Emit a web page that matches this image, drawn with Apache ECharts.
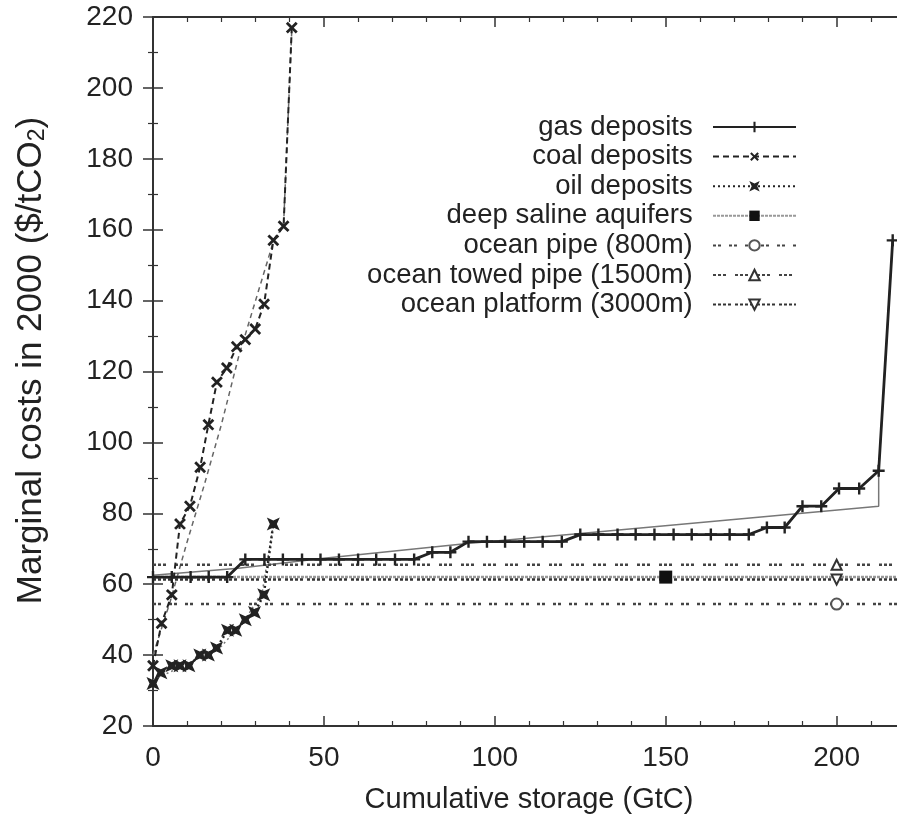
<!DOCTYPE html>
<html>
<head>
<meta charset="utf-8">
<script src="https://cdn.jsdelivr.net/npm/echarts@6/dist/echarts.min.js"></script>
<style>
html,body{margin:0;padding:0;background:#fff;}
#chart{width:897px;height:817px;}
</style>
</head>
<body>
<div id="chart"></div>
<script>
// ---- data ----
const gasX = [0, 5.5, 11, 16.3, 21.7, 27, 32.6, 38, 43.6, 49, 54.4, 60, 65.3, 70.8, 76.4, 81.7, 87, 92.3, 97.7, 103, 108.6, 114, 119.6, 125, 130.3, 135.9, 141.2, 146.7, 152.3, 157.6, 163.2, 168.7, 174.3, 179.6, 184.8, 190, 195.5, 200.7, 206.6, 212.3, 216.4];
const gasY = [62, 62, 62, 62, 62, 67, 67, 67, 67, 67, 67, 67, 67, 67, 67, 69, 69, 72, 72, 72, 72, 72, 72, 74, 74, 74, 74, 74, 74, 74, 74, 74, 74, 76, 76, 82, 82, 87, 87, 92, 157];
const gasFitX = [0, 25, 50, 92, 125, 212.3, 212.3, 216.4];
const gasFitY = [62.5, 64.5, 67.3, 71.5, 74.3, 82, 92, 157];

const coalX = [0, 2.5, 5.5, 7.9, 10.8, 13.8, 16.2, 18.7, 21.6, 24.5, 27, 29.9, 32.5, 35.2, 38.2, 40.6];
const coalY = [37, 49, 57, 77, 82, 93, 105, 117, 121, 127, 129, 132, 139, 157, 161, 217];
const coalFitX = [0, 5, 10, 15, 20, 25, 30, 35.2, 38.2, 40.6];
const coalFitY = [40, 55, 72, 88, 105, 124, 140, 156.6, 161.3, 216.3];

const oilX = [0, 2.3, 5.5, 7.9, 10.5, 13.7, 16.2, 18.6, 21.8, 24.2, 27, 29.7, 32.4, 35.2];
const oilY = [32, 35, 37, 37, 37, 40, 40, 42, 47, 47, 50, 52, 57, 77];
const oilFitX = [0, 10, 20, 27, 32, 35.2];
const oilFitY = [33, 37.5, 42.5, 50, 58, 76.7];

// horizontal cost levels: [marker x, cost]
const aquiferLevel = [150, 62];
const pipeLevel = [200, 54.4];
const towedLevel = [200, 65.5];
const platformLevel = [200, 61.3];

const xTicks = [0, 50, 100, 150, 200];
const yTicks = [20, 40, 60, 80, 100, 120, 140, 160, 180, 200, 220];

const names = ['gas deposits', 'coal deposits', 'oil deposits', 'deep saline aquifers',
  'ocean pipe (800m)', 'ocean towed pipe (1500m)', 'ocean platform (3000m)'];

// ---- chart ----
const FONT = '"Liberation Sans", Arial, Helvetica, sans-serif';
const X_MIN = 0, X_MAX = 220, Y_MIN = 20, Y_MAX = 220;
const zip = (a, b) => a.map((v, i) => [v, b[i]]);
const level = (lv) => [
  { value: [X_MIN, lv[1]], symbol: 'none' },
  { value: [lv[0], lv[1]] },
  { value: [X_MAX, lv[1]], symbol: 'none' }
];

const PLUS = 'path://M4,0H6V4H10V6H6V10H4V6H0V4H4Z';
const STAR = 'path://M0,0L5,2.3L10,0L7.7,5L10,10L5,7.7L0,10L2.3,5Z';
const DARK = '#222';

const axisCommon = {
  type: 'value',
  axisLine: { show: true, lineStyle: { color: '#333', width: 2 } },
  axisTick: { show: true, inside: true, length: 10, lineStyle: { color: '#333', width: 1.5 } },
  minorTick: { show: true, length: 5, lineStyle: { color: '#333', width: 1.2 } },
  splitLine: { show: false },
  minorSplitLine: { show: false }
};

const option = {
  backgroundColor: '#fff',
  animation: false,
  grid: { left: 153, top: 17, width: 752, height: 709, containLabel: false, outerBoundsMode: 'none' },
  xAxis: [
    Object.assign({}, axisCommon, {
      min: X_MIN, max: X_MAX, interval: 50, position: 'bottom',
      minorTick: Object.assign({}, axisCommon.minorTick, { splitNumber: 5 }),
      axisLabel: { show: true, fontSize: 28, color: DARK, fontFamily: FONT, margin: 18,
        formatter: v => (xTicks.indexOf(v) >= 0 ? String(v) : '') },
      name: 'Cumulative storage (GtC)', nameLocation: 'middle', nameGap: 59,
      nameTextStyle: { fontSize: 29, color: DARK, fontFamily: FONT }
    }),
    Object.assign({}, axisCommon, {
      min: X_MIN, max: X_MAX, interval: 50, position: 'top',
      minorTick: Object.assign({}, axisCommon.minorTick, { splitNumber: 5 }),
      axisLabel: { show: false }
    })
  ],
  yAxis: [
    Object.assign({}, axisCommon, {
      min: Y_MIN, max: Y_MAX, interval: 20, position: 'left',
      minorTick: Object.assign({}, axisCommon.minorTick, { splitNumber: 2 }),
      axisLabel: { show: true, fontSize: 28, color: DARK, fontFamily: FONT, margin: 20,
        formatter: v => (yTicks.indexOf(v) >= 0 ? String(v) : '') },
      name: '{t|Marginal costs in 2000 ($/tCO}{s|2}{t|)}', nameLocation: 'middle', nameGap: 104,
      nameTextStyle: {
        color: DARK, fontFamily: FONT, padding: [0, 0, 0, 22],
        rich: {
          t: { fontSize: 35, color: DARK, fontFamily: FONT, lineHeight: 42, verticalAlign: 'bottom' },
          s: { fontSize: 23, color: DARK, fontFamily: FONT, lineHeight: 23, verticalAlign: 'bottom' }
        }
      }
    }),
    Object.assign({}, axisCommon, {
      min: Y_MIN, max: Y_MAX, interval: 20, position: 'right',
      minorTick: Object.assign({}, axisCommon.minorTick, { splitNumber: 2 }),
      axisLabel: { show: false }
    })
  ],
  legend: {
    orient: 'vertical', right: 95, top: 108, align: 'right',
    itemWidth: 83, itemHeight: 13, itemGap: 1.6,
    data: names,
    formatter: n => n + '  ',
    textStyle: { fontSize: 27.5, color: DARK, fontFamily: FONT }
  },
  series: [
    // model fits (thin, not in legend)
    { name: 'gas fit', type: 'line', data: zip(gasFitX, gasFitY), symbol: 'none', z: 1,
      lineStyle: { color: '#777', width: 1.5 } },
    { name: 'coal fit', type: 'line', data: zip(coalFitX, coalFitY), symbol: 'none', z: 1,
      lineStyle: { color: '#666', width: 1.5, type: [5, 4] } },
    { name: 'oil fit', type: 'line', data: zip(oilFitX, oilFitY), symbol: 'none', z: 1,
      lineStyle: { color: '#777', width: 1.5, type: [2, 3] } },
    // main series
    { name: names[0], type: 'line', data: zip(gasX, gasY), z: 5,
      symbol: PLUS, symbolSize: 12, showAllSymbol: true,
      lineStyle: { color: DARK, width: 2.8 }, itemStyle: { color: DARK } },
    { name: names[1], type: 'line', data: zip(coalX, coalY), z: 5,
      symbol: PLUS, symbolSize: 14, symbolRotate: 45, showAllSymbol: true,
      lineStyle: { color: DARK, width: 2, type: [6, 4] }, itemStyle: { color: DARK } },
    { name: names[2], type: 'line', data: zip(oilX, oilY), z: 5,
      symbol: STAR, symbolSize: 13, showAllSymbol: true,
      lineStyle: { color: DARK, width: 2.5, type: [2, 3] }, itemStyle: { color: DARK } },
    { name: names[3], type: 'line', data: level(aquiferLevel), z: 3,
      symbol: 'rect', symbolSize: 13,
      lineStyle: { color: '#999', width: 2.5, type: [3, 1] }, itemStyle: { color: '#111' } },
    { name: names[4], type: 'line', data: level(pipeLevel), z: 3,
      symbol: 'circle', symbolSize: 11,
      lineStyle: { color: '#444', width: 2.5, type: [3, 2, 3, 8] },
      itemStyle: { color: '#fff', borderColor: '#555', borderWidth: 2 } },
    { name: names[5], type: 'line', data: level(towedLevel), z: 3,
      symbol: 'triangle', symbolSize: 10,
      lineStyle: { color: '#444', width: 2.5, type: [3, 2, 3, 2, 3, 9] },
      itemStyle: { color: '#fff', borderColor: '#333', borderWidth: 2 } },
    { name: names[6], type: 'line', data: level(platformLevel), z: 3,
      symbol: 'triangle', symbolSize: 10, symbolRotate: 180,
      lineStyle: { color: '#333', width: 2.5, type: [3, 2, 3, 2, 3, 2, 3, 4] },
      itemStyle: { color: '#fff', borderColor: '#333', borderWidth: 2 } }
  ]
};

const chart = echarts.init(document.getElementById('chart'), null, { renderer: 'canvas' });
chart.setOption(option);
</script>
</body>
</html>
